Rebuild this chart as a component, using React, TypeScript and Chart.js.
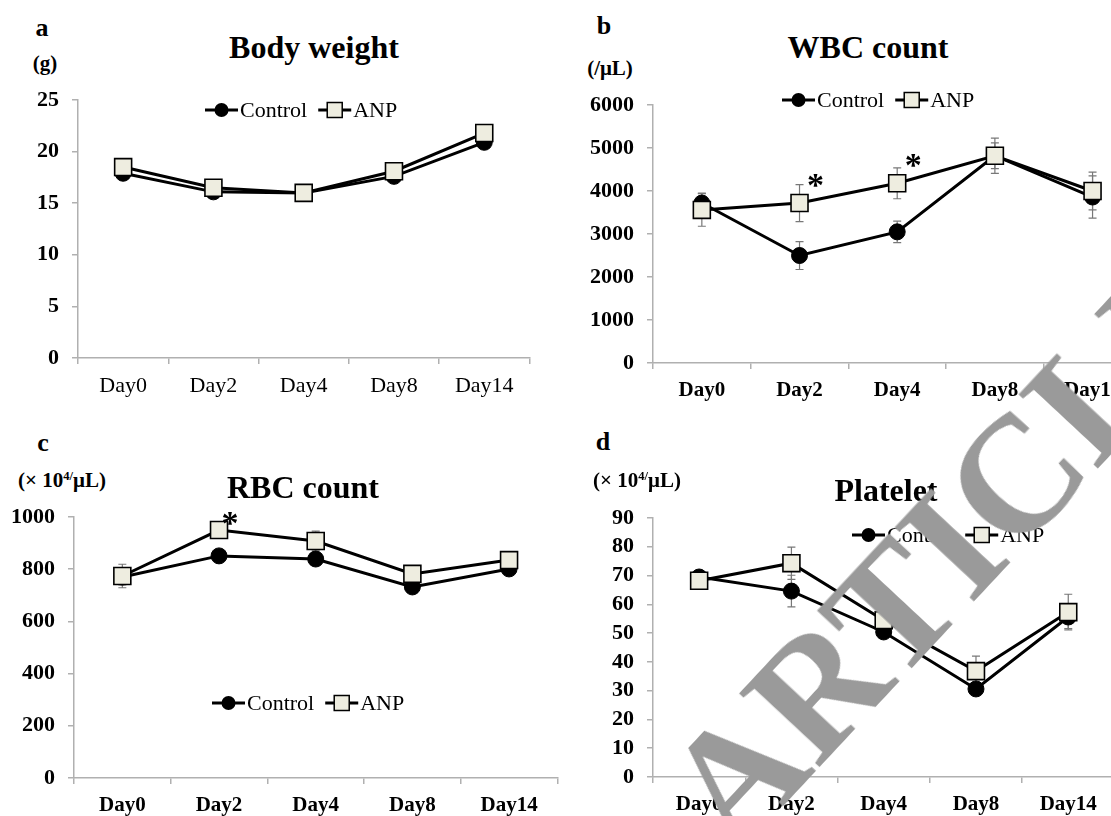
import React, { useEffect, useRef } from 'react';
import { Chart, registerables } from 'chart.js';

Chart.register(...registerables);

const FONT = '"Liberation Serif", "Times New Roman", Tinos, serif';

// ---------- data ----------
const days = ['Day0', 'Day2', 'Day4', 'Day8', 'Day14'];
const seriesNames = ['Control', 'ANP'];

const bwControl = [17.9, 16.1, 16.0, 17.6, 20.9];
const bwANP = [18.5, 16.5, 16.0, 18.1, 21.8];
const bwControlErr = [0.3, 0.3, 0.3, 0.3, 0.3];
const bwANPErr = [0.3, 0.3, 0.3, 0.3, 0.3];
const bwTicks = { min: 0, max: 25, step: 5 };

const wbcControl = [3720, 2500, 3050, 4820, 3860];
const wbcANP = [3560, 3720, 4180, 4820, 4000];
const wbcControlErr = [230, 325, 250, 300, 490];
const wbcANPErr = [380, 430, 360, 410, 440];
const wbcTicks = { min: 0, max: 6000, step: 1000 };
const wbcStars = [
  { index: 1, value: 4330 },
  { index: 2, value: 4790 },
];

const rbcControl = [770, 851, 839, 732, 801];
const rbcANP = [774, 950, 908, 782, 835];
const rbcControlErr = [30, 15, 15, 15, 15];
const rbcANPErr = [45, 15, 38, 15, 15];
const rbcTicks = { min: 0, max: 1000, step: 200 };
const rbcStars = [{ index: 1, value: 1008 }];

const pltControl = [69.5, 64.6, 50.4, 30.6, 55.6];
const pltANP = [68.2, 74.3, 54.5, 36.8, 57.3];
const pltControlErr = [1.5, 5.5, 2, 2, 4];
const pltANPErr = [1.5, 5.6, 3, 5.2, 6.2];
const pltTicks = { min: 0, max: 90, step: 10 };

// ---------- layout constants ----------
const YW = 70; // y-axis box width
const PT = 22; // top padding
const PR = 10; // right padding
const XH = 45; // x-axis box height
const AXIS = '#b0b0b0';

type Area = { l: number; t: number; r: number; b: number };
type Spec = {
  control: number[];
  anp: number[];
  controlErr: number[];
  anpErr: number[];
  ticks: { min: number; max: number; step: number };
  area: Area;
  xBold: boolean;
  legend: { x: number; y: number };
  stars: { index: number; value: number }[];
  starDx: number;
};

const panels: Spec[] = [
  {
    control: bwControl, anp: bwANP, controlErr: bwControlErr, anpErr: bwANPErr,
    ticks: bwTicks, area: { l: 78, t: 100, r: 533, b: 358 }, xBold: false,
    legend: { x: 205, y: 110 }, stars: [], starDx: 0,
  },
  {
    control: wbcControl, anp: wbcANP, controlErr: wbcControlErr, anpErr: wbcANPErr,
    ticks: wbcTicks, area: { l: 653, t: 105, r: 1145, b: 363 }, xBold: true,
    legend: { x: 782, y: 100 }, stars: wbcStars, starDx: 16,
  },
  {
    control: rbcControl, anp: rbcANP, controlErr: rbcControlErr, anpErr: rbcANPErr,
    ticks: rbcTicks, area: { l: 74, t: 517, r: 561, b: 778 }, xBold: true,
    legend: { x: 212, y: 703 }, stars: rbcStars, starDx: 11,
  },
  {
    control: pltControl, anp: pltANP, controlErr: pltControlErr, anpErr: pltANPErr,
    ticks: pltTicks, area: { l: 653, t: 518, r: 1118, b: 777 }, xBold: true,
    legend: { x: 852, y: 535 }, stars: [], starDx: 0,
  },
];

// ---------- plugins ----------
const errorBarPlugin = {
  id: 'errorBars',
  beforeDatasetsDraw(chart: any) {
    const ctx = chart.ctx;
    const ys = chart.scales.y;
    ctx.save();
    ctx.strokeStyle = '#787878';
    ctx.lineWidth = 1.2;
    chart.data.datasets.forEach((ds: any, i: number) => {
      const errs = ds.errors;
      if (!errs) return;
      const meta = chart.getDatasetMeta(i);
      meta.data.forEach((pt: any, j: number) => {
        const v = ds.data[j];
        const e = errs[j];
        const yTop = ys.getPixelForValue(v + e);
        const yBot = ys.getPixelForValue(v - e);
        const x = pt.x;
        ctx.beginPath();
        ctx.moveTo(x, yTop);
        ctx.lineTo(x, yBot);
        ctx.moveTo(x - 4, yTop);
        ctx.lineTo(x + 4, yTop);
        ctx.moveTo(x - 4, yBot);
        ctx.lineTo(x + 4, yBot);
        ctx.stroke();
      });
    });
    ctx.restore();
  },
};

const starPlugin = {
  id: 'stars',
  afterDatasetsDraw(chart: any) {
    const opts = chart.options.plugins.stars;
    if (!opts || !opts.items || !opts.items.length) return;
    const ctx = chart.ctx;
    ctx.save();
    ctx.fillStyle = '#000';
    ctx.font = `bold 34px ${FONT}`;
    ctx.textAlign = 'center';
    ctx.textBaseline = 'alphabetic';
    opts.items.forEach((s: any) => {
      const x = chart.scales.x.getPixelForValue(s.index) + opts.dx;
      const y = chart.scales.y.getPixelForValue(s.value);
      ctx.fillText('*', x, y + 34 * 0.55);
    });
    ctx.restore();
  },
};

const legendPlugin = {
  id: 'customLegend',
  afterDraw(chart: any) {
    const opts = chart.options.plugins.customLegend;
    if (!opts) return;
    const ctx = chart.ctx;
    ctx.save();
    ctx.font = `22px ${FONT}`;
    ctx.textBaseline = 'middle';
    ctx.textAlign = 'left';
    let x = opts.x;
    const y = opts.y;
    chart.data.datasets.forEach((ds: any) => {
      ctx.strokeStyle = '#000';
      ctx.lineWidth = 3;
      ctx.beginPath();
      ctx.moveTo(x, y);
      ctx.lineTo(x + 33, y);
      ctx.stroke();
      const mx = x + 16.5;
      if (ds.pointStyle === 'circle') {
        ctx.fillStyle = '#000';
        ctx.beginPath();
        ctx.arc(mx, y, 7, 0, Math.PI * 2);
        ctx.fill();
      } else {
        ctx.fillStyle = ds.pointBackgroundColor;
        ctx.fillRect(mx - 7.5, y - 7.5, 15, 15);
        ctx.lineWidth = 1.5;
        ctx.strokeRect(mx - 7.5, y - 7.5, 15, 15);
      }
      ctx.fillStyle = '#000';
      ctx.fillText(ds.label, x + 35, y + 1);
      x += 35 + ctx.measureText(ds.label).width + 11;
    });
    ctx.restore();
  },
};

function canvasBox(a: Area) {
  return {
    left: a.l - YW,
    top: a.t - PT,
    width: a.r - a.l + YW + PR,
    height: a.b - a.t + PT + XH,
  };
}

function buildConfig(p: Spec): any {
  const box = canvasBox(p.area);
  return {
    type: 'line',
    data: {
      labels: days,
      datasets: [
        {
          label: seriesNames[0],
          data: p.control,
          errors: p.controlErr,
          borderColor: '#000',
          borderWidth: 3,
          pointStyle: 'circle',
          pointRadius: 8,
          pointHoverRadius: 8,
          pointBackgroundColor: '#000',
          pointBorderColor: '#000',
          pointBorderWidth: 1,
          tension: 0,
          order: 1,
        },
        {
          label: seriesNames[1],
          data: p.anp,
          errors: p.anpErr,
          borderColor: '#000',
          borderWidth: 3,
          pointStyle: 'rect',
          pointRadius: 12,
          pointHoverRadius: 12,
          pointBackgroundColor: '#eeede0',
          pointBorderColor: '#000',
          pointBorderWidth: 1.6,
          tension: 0,
          order: 0,
        },
      ],
    },
    options: {
      animation: false,
      responsive: false,
      maintainAspectRatio: false,
      events: [],
      layout: { padding: { top: PT, right: PR, left: 0, bottom: 0 } },
      plugins: {
        legend: { display: false },
        tooltip: { enabled: false },
        title: { display: false },
        customLegend: { x: p.legend.x - box.left, y: p.legend.y - box.top },
        stars: { items: p.stars, dx: p.starDx },
      },
      scales: {
        x: {
          type: 'category',
          offset: true,
          grid: {
            offset: true,
            drawOnChartArea: false,
            drawTicks: true,
            tickLength: 6,
            color: AXIS,
            lineWidth: 1.5,
          },
          border: { display: true, color: AXIS, width: 1.5 },
          ticks: {
            color: '#000',
            font: { family: FONT, size: p.xBold ? 21 : 22, weight: p.xBold ? 'bold' : 'normal' },
            padding: 9,
            maxRotation: 0,
            autoSkip: false,
          },
          afterFit: (s: any) => {
            s.height = XH;
            s.paddingLeft = 0;
            s.paddingRight = 0;
          },
        },
        y: {
          min: p.ticks.min,
          max: p.ticks.max,
          grid: {
            drawOnChartArea: false,
            drawTicks: true,
            tickLength: 6,
            color: AXIS,
            lineWidth: 1.5,
          },
          border: { display: true, color: AXIS, width: 1.5 },
          ticks: {
            stepSize: p.ticks.step,
            autoSkip: false,
            color: '#000',
            font: { family: FONT, size: 22, weight: 'bold' },
            padding: 13,
            callback: (v: any) => String(v),
          },
          afterFit: (s: any) => {
            s.width = YW;
            s.paddingTop = 0;
            s.paddingBottom = 0;
          },
        },
      },
    },
    plugins: [errorBarPlugin, starPlugin, legendPlugin],
  };
}

function Panel({ spec }: { spec: Spec }) {
  const ref = useRef<HTMLCanvasElement | null>(null);
  const box = canvasBox(spec.area);
  useEffect(() => {
    if (!ref.current) return;
    const chart = new Chart(ref.current, buildConfig(spec));
    return () => chart.destroy();
  }, []);
  return (
    <canvas
      ref={ref}
      width={box.width}
      height={box.height}
      style={{
        position: 'absolute',
        left: box.left,
        top: box.top,
        width: box.width,
        height: box.height,
        display: 'block',
      }}
    />
  );
}

function Label({ x, y, size, children }: { x: number; y: number; size: number; children: any }) {
  return (
    <div
      style={{
        position: 'absolute',
        left: x,
        top: y,
        transform: 'translate(-50%, -50%)',
        fontFamily: FONT,
        fontWeight: 'bold',
        fontSize: size,
        lineHeight: 1,
        whiteSpace: 'nowrap',
        color: '#000',
      }}
    >
      {children}
    </div>
  );
}

const supStyle: any = { fontSize: '0.6em', verticalAlign: '0.55em' };

export default function App() {
  return (
    <div
      style={{
        position: 'fixed',
        left: 0,
        top: 0,
        width: 1111,
        height: 816,
        overflow: 'hidden',
        background: '#fff',
        fontFamily: FONT,
      }}
    >
      {panels.map((p, i) => (
        <Panel key={i} spec={p} />
      ))}

      <Label x={42} y={28} size={26}>a</Label>
      <Label x={45} y={63} size={21}>(g)</Label>
      <Label x={314} y={47} size={32}>Body weight</Label>

      <Label x={604} y={26} size={26}>b</Label>
      <Label x={610} y={68} size={21}>(/μL)</Label>
      <Label x={868} y={47} size={32}>WBC count</Label>

      <Label x={43} y={443} size={26}>c</Label>
      <Label x={62} y={480} size={21}>
        (× 10<span style={supStyle}>4/</span>μL)
      </Label>
      <Label x={303} y={487} size={32}>RBC count</Label>

      <Label x={603} y={442} size={26}>d</Label>
      <Label x={637} y={480} size={21}>
        (× 10<span style={supStyle}>4/</span>μL)
      </Label>
      <Label x={886} y={490} size={32}>Platelet</Label>

      <div
        style={{
          position: 'absolute',
          left: 950,
          top: 545,
          transform: 'translate(-50%, -50%) rotate(-47deg)',
          fontFamily: FONT,
          fontWeight: 'bold',
          fontSize: 166,
          lineHeight: 1,
          whiteSpace: 'nowrap',
          color: '#9a9a9a',
          pointerEvents: 'none',
        }}
      >
        ARTICLE
      </div>
    </div>
  );
}
